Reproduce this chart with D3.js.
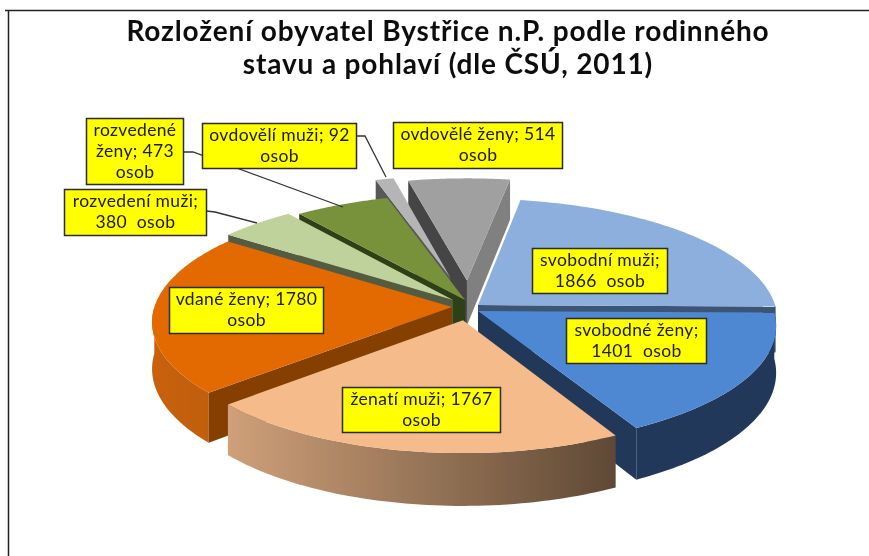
<!DOCTYPE html>
<html><head><meta charset="utf-8">
<script src="https://cdn.jsdelivr.net/npm/d3@7"></script>
<style>html,body{margin:0;padding:0;background:#fff}svg{display:block}</style></head>
<body><svg id="c" width="869" height="556"></svg>
<script>
// Data
const categories = ["svobodní muži","svobodné ženy","ženatí muži","vdané ženy","rozvedení muži","rozvedené ženy","ovdovělí muži","ovdovělé ženy"];
const values = [1866,1401,1767,1780,380,473,92,514];
const titleLines = ["Rozložení obyvatel Bystřice n.P. podle rodinného","stavu a pohlaví (dle ČSÚ, 2011)"];
const labelLines = [
 ["svobodní muži;","1866  osob"],["svobodné ženy;","1401  osob"],["ženatí muži; 1767","osob"],["vdané ženy; 1780","osob"],
 ["rozvedení muži;","380  osob"],["rozvedené","ženy; 473","osob"],["ovdovělí muži; 92","osob"],["ovdovělé ženy; 514","osob"]];

// Styles
const topColors   = ["#8cafde","#5088d2","#f6bb8a","#e26b05","#c0d29c","#77923b","#b5b5b5","#a0a0a0"];
const startWall   = ["#3c5474","#203859","#5f4936","#853f00","#535b41","#2f3f14","#595959","#454545"];
const endWall     = ["#3c5474","#203859","#5f4936","#853f00","#535b41","#2f3f14","#595959","#808080"];
const rimFrom     = ["#4a6a96","#21375a","#cfa079","#c8620a","#7a8a60","#4a5c24","#777","#808080"];
const rimTo       = ["#4a6a96","#21375a","#5f4936","#bd5c08","#7a8a60","#4a5c24","#777","#808080"];
// Layout
const W=869,H=556,cx=465,cy=305,R=300,Ry=120,D=46,persp=0.12;
const explodePx = [[13,0],[13,6],[-2,15],[-13,2],[-12,-5],[0,-5],[-15,-28],[2,-25]];
const radiusScale = [0.99,0.98,0.95,0.99,1,1,1,1];
const paintOrder = [7,6,5,4,0,3,1,2];
const boxes = [[532,248,135,45],[566,318,140,45],[342,387,158,45],[169,287,154,46],[64,189,142,46],[86,118,97,66],[202,123,154,45],[393,122,169,46]];
const leaders = [
 [[206,211],[215,212],[257,223]],
 [[183,152],[193,152],[343,207]],
 [[356,136],[365,136],[386,177]]];

const svg=d3.select("#c");
const defs=svg.append("defs");
defs.append("filter").attr("id","softPie").append("feGaussianBlur").attr("stdDeviation",0.5);
defs.append("filter").attr("id","softText").attr("x","-5%").attr("y","-5%").attr("width","110%").attr("height","110%").append("feGaussianBlur").attr("stdDeviation",0.35);
const pie=d3.pie().sort(null).value(d=>d).startAngle(9.5*Math.PI/180).endAngle((360+9.5)*Math.PI/180);
const arcs=pie(values);
const xs=d3.scaleLinear().domain([-1,1]).range([-R,R]);
const ys=d3.scaleLinear().domain([-1,1]).range([-Ry,Ry]);
function proj(X,Y,Z){const s=1/(1-persp*Y);return [cx+xs(X)*s, cy+(ys(Y)+D*Z)*s];}
const line=d3.line();
const side=(a,b,p)=>(b[0]-a[0])*(p[1]-a[1])-(b[1]-a[1])*(p[0]-a[0]);

// Frame
svg.append("path").attr("d","M5,10.5H869M8.5,10V556").attr("fill","none").attr("stroke","#222").attr("stroke-width",1.5);

const g=svg.append("g").attr("filter","url(#softPie)");
paintOrder.forEach(i=>{
  const a=arcs[i],e=[explodePx[i][0]/R,explodePx[i][1]/Ry],rs=radiusScale[i];
  const n=60,rim=d3.range(n+1).map(k=>a.startAngle+(a.endAngle-a.startAngle)*k/n);
  const P=(t,r,z)=>proj(e[0]+r*rs*Math.sin(t),e[1]-r*rs*Math.cos(t),z);
  const top=rim.map(t=>P(t,1,0));
  const ap0=P(0,0,0),ap1=P(0,0,1);
  const mid=P((a.startAngle+a.endAngle)/2,0.7,0);
  // outer wall with horizontal shading, only its viewer-facing part
  const ex=d3.extent(top,d=>d[0]);
  const gid="rim"+i;
  const lg=defs.append("linearGradient").attr("id",gid).attr("gradientUnits","userSpaceOnUse")
    .attr("x1",ex[0]).attr("x2",ex[1]).attr("y1",0).attr("y2",0);
  lg.append("stop").attr("offset",0).attr("stop-color",rimFrom[i]);
  lg.append("stop").attr("offset",1).attr("stop-color",rimTo[i]);
  const front=rim.filter(t=>-Math.cos(t)>=-0.02);
  if(front.length>1){
    const ft=front.map(t=>P(t,1,0)),fb=front.map(t=>P(t,1,1)).reverse();
    g.append("path").attr("d",line(ft.concat(fb))+"Z").attr("fill",`url(#${gid})`);
  }
  // radial walls, only when they face the viewer
  const wall=(t,col)=>{
    const pt=P(t,1,0),pb=P(t,1,1);
    if(side(ap0,pt,mid)*side(ap0,pt,ap1)<0)
      g.append("path").attr("d",line([ap0,pt,pb,ap1])+"Z").attr("fill",col);
  };
  wall(a.endAngle,endWall[i]);
  wall(a.startAngle,startWall[i]);
  // top face
  g.append("path").attr("d",line([ap0].concat(top))+"Z").attr("fill",topColors[i]);
});

// leaders
leaders.forEach(l=>svg.append("path").attr("d",line(l)).attr("fill","none").attr("stroke","#333").attr("stroke-width",1.3));

// labels
const labelFont="Lato, sans-serif";
categories.forEach((c,i)=>{
  const b=boxes[i];
  svg.append("rect").attr("x",b[0]+.5).attr("y",b[1]+.5).attr("width",b[2]).attr("height",b[3])
    .attr("fill","#ffff00").attr("stroke","#2b2b2b").attr("stroke-width",1.5);
  const L=labelLines[i],lh=21,y0=b[1]+b[3]/2-(L.length-1)*lh/2;
  L.forEach((t,k)=>svg.append("text").attr("x",b[0]+b[2]/2+.5).attr("y",y0+k*lh+5.5)
    .attr("text-anchor","middle").attr("font-family",labelFont).attr("font-size",17.5)
    .attr("letter-spacing",0.35).attr("filter","url(#softText)")
    .attr("fill","#1a1a1a").style("white-space","pre").text(t));
});
// title
titleLines.forEach((t,k)=>svg.append("text").attr("x",448).attr("y",41+k*33)
  .attr("text-anchor","middle").attr("font-family",labelFont).attr("font-weight",700)
  .attr("font-size",28).attr("letter-spacing",0.85).attr("filter","url(#softText)").attr("fill","#111").text(t));
</script></body></html>
